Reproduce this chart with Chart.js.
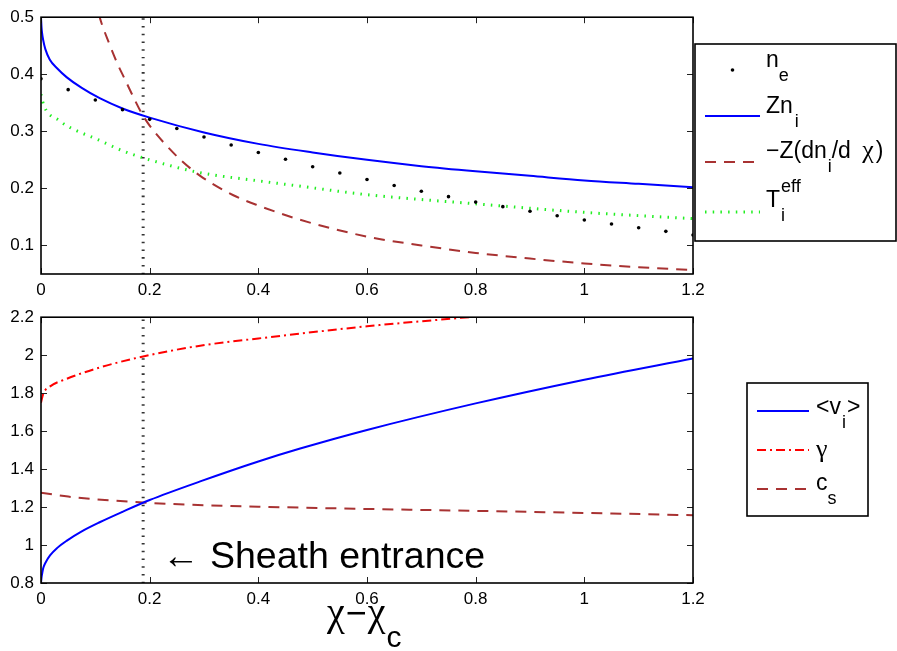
<!DOCTYPE html>
<html>
<head>
<meta charset="utf-8">
<script src="https://cdn.jsdelivr.net/npm/chart.js@4.4.1/dist/chart.umd.min.js"></script>
<style>
  body { margin: 0; background: #fff; }
  #wrap { position: relative; width: 897px; height: 651px; }
  canvas { position: absolute; left: 0; }
  #top { top: 0; }
  #bottom { top: 300px; }
</style>
</head>
<body>
<div id="wrap">
  <canvas id="top" width="897" height="300"></canvas>
  <canvas id="bottom" width="897" height="351"></canvas>
</div>
<script>
"use strict";

// ---- data ----
const xTicks = [0, 0.2, 0.4, 0.6, 0.8, 1, 1.2];
const xTickLabels = ['0', '0.2', '0.4', '0.6', '0.8', '1', '1.2'];
const topYTicks = [0.1, 0.2, 0.3, 0.4, 0.5];
const topYTickLabels = ['0.1', '0.2', '0.3', '0.4', '0.5'];
const botYTicks = [0.8, 1, 1.2, 1.4, 1.6, 1.8, 2, 2.2];
const botYTickLabels = ['0.8', '1', '1.2', '1.4', '1.6', '1.8', '2', '2.2'];

const sheathX = 0.188; // sheath entrance position

// top panel
const neX = [0, 0.05, 0.1, 0.15, 0.2, 0.25, 0.3, 0.35, 0.4, 0.45, 0.5, 0.55, 0.6,
             0.65, 0.7, 0.75, 0.8, 0.85, 0.9, 0.95, 1, 1.05, 1.1, 1.15, 1.2];
const neY = [0.392, 0.373, 0.355, 0.338, 0.321, 0.305, 0.290, 0.276, 0.263, 0.251, 0.238, 0.227, 0.2155,
             0.205, 0.195, 0.1855, 0.176, 0.168, 0.160, 0.152, 0.1445, 0.1377, 0.131, 0.1247, 0.1184];

const zniX = [0, 0.001, 0.002, 0.004, 0.008, 0.016, 0.03, 0.047, 0.075, 0.108, 0.15,
              0.2, 0.3, 0.4, 0.5, 0.6, 0.7, 0.8, 0.9, 1.0, 1.1, 1.2];
const zniY = [0.5, 0.482, 0.472, 0.46, 0.444, 0.426, 0.41, 0.395, 0.376, 0.358, 0.34,
              0.324, 0.298, 0.278, 0.263, 0.25, 0.239, 0.23, 0.222, 0.214, 0.208, 0.202];

const dndX = [0.09, 0.108, 0.125, 0.14, 0.155, 0.17, 0.185, 0.2, 0.23, 0.257, 0.293, 0.354, 0.4,
              0.477, 0.6, 0.7, 0.8, 0.9, 1.0, 1.1, 1.2];
const dndY = [0.57, 0.5, 0.455, 0.42, 0.39, 0.36, 0.332, 0.31, 0.276, 0.25, 0.222, 0.188, 0.17,
              0.145, 0.1155, 0.1, 0.087, 0.077, 0.0685, 0.062, 0.057];

const tiX = [0, 0.003, 0.01, 0.032, 0.047, 0.108, 0.15, 0.2, 0.293, 0.4, 0.47, 0.6, 0.8, 1.0, 1.2];
const tiY = [0.365, 0.352, 0.336, 0.32, 0.31, 0.284, 0.266, 0.25, 0.2275, 0.2133, 0.2047, 0.189, 0.173, 0.158, 0.147];

// bottom panel
const viX = [0, 0.001, 0.0025, 0.0043, 0.008, 0.0166, 0.03, 0.047, 0.075, 0.108, 0.15, 0.2,
             0.293, 0.4, 0.477, 0.6, 0.8, 1.0, 1.2];
const viY = [0.8, 0.83, 0.855, 0.88, 0.905, 0.945, 0.985, 1.022, 1.072, 1.12, 1.175, 1.237,
             1.335, 1.44, 1.508, 1.606, 1.746, 1.871, 1.983];

const gammaX = [0, 0.0043, 0.015, 0.047, 0.108, 0.188, 0.293, 0.4, 0.6, 0.8, 1.0, 1.2];
const gammaY = [1.75, 1.798, 1.832, 1.875, 1.935, 1.993, 2.05, 2.088, 2.152, 2.203, 2.25, 2.29];

const csX = [0, 0.05, 0.1, 0.2, 0.3, 0.4, 0.6, 0.8, 1.0, 1.2];
const csY = [1.276, 1.255, 1.241, 1.222, 1.21, 1.202, 1.19, 1.18, 1.169, 1.157];

// ---- styles ----
const FONT = "'Liberation Sans', Arial, Helvetica, sans-serif";
const GREEK = "'Liberation Serif', 'Times New Roman', serif";
const BLUE = '#0000ff';
const BROWN = '#a83232';
const RED = '#ff0000';
const GREEN = '#22ee22';
const DASHED = [11, 8];
const DOTTED = [1.5, 6.2];
const DASHDOT = [9, 4, 2, 4];

const pts = (xs, ys) => xs.map((x, i) => ({ x, y: ys[i] }));

function lineSet(xs, ys, color, dash, width) {
    return {
        data: pts(xs, ys),
        showLine: true,
        borderColor: color,
        borderWidth: width || 2,
        borderDash: dash || [],
        pointRadius: 0,
        cubicInterpolationMode: 'monotone',
        fill: false
    };
}

// inward ticks on all four sides + axes box
const boxTicks = {
    id: 'boxTicks',
    afterDatasetsDraw(chart) {
        const { ctx, chartArea: a, scales: { x, y } } = chart;
        ctx.save();
        ctx.strokeStyle = '#222';
        ctx.lineWidth = 1;
        ctx.beginPath();
        x.ticks.forEach(t => {
            const px = Math.round(x.getPixelForValue(t.value)) + 0.5;
            ctx.moveTo(px, a.bottom); ctx.lineTo(px, a.bottom - 6);
            ctx.moveTo(px, a.top); ctx.lineTo(px, a.top + 6);
        });
        y.ticks.forEach(t => {
            const py = Math.round(y.getPixelForValue(t.value)) + 0.5;
            ctx.moveTo(a.left, py); ctx.lineTo(a.left + 6, py);
            ctx.moveTo(a.right, py); ctx.lineTo(a.right - 6, py);
        });
        ctx.stroke();
        ctx.strokeStyle = '#000';
        ctx.lineWidth = 1.6;
        ctx.strokeRect(a.left, a.top, a.right - a.left, a.bottom - a.top);
        ctx.restore();
    }
};

// text with sub/superscripts: parts = [{t, sub, sup, stay, gap, f, s}]
function drawRich(ctx, parts, x, base, size, subSize) {
    let cx = x;
    parts.forEach(p => {
        const s = p.s || ((p.sub || p.sup) ? subSize : size);
        ctx.font = s + 'px ' + (p.f || FONT);
        const dy = p.sub ? size * 0.6 : (p.sup ? -size * 0.66 : 0);
        ctx.fillText(p.t, cx, base + dy);
        if (!p.stay) cx += ctx.measureText(p.t).width + (p.gap || 0);
    });
}

// boxed legend with line samples and TeX-like labels
const texLegend = {
    id: 'texLegend',
    afterDraw(chart, args, opts) {
        if (!opts.box) return;
        const ctx = chart.ctx;
        const b = opts.box;
        ctx.save();
        ctx.fillStyle = '#fff';
        ctx.fillRect(b.x, b.y, b.w, b.h);
        ctx.strokeStyle = '#000';
        ctx.lineWidth = 1.6;
        ctx.strokeRect(b.x, b.y, b.w, b.h);
        opts.rows.forEach(r => {
            const ds = chart.data.datasets[r.ds];
            if (r.dot) {
                ctx.fillStyle = ds.backgroundColor;
                ctx.beginPath();
                ctx.arc((opts.x0 + opts.x1) / 2, r.sy, ds.pointRadius, 0, Math.PI * 2);
                ctx.fill();
            } else {
                ctx.strokeStyle = ds.borderColor;
                ctx.lineWidth = ds.borderWidth;
                ctx.setLineDash(ds.borderDash);
                ctx.beginPath();
                ctx.moveTo(opts.x0, r.sy);
                ctx.lineTo(opts.x1, r.sy);
                ctx.stroke();
                ctx.setLineDash([]);
            }
            ctx.fillStyle = '#000';
            ctx.textBaseline = 'alphabetic';
            ctx.textAlign = 'left';
            drawRich(ctx, r.parts, opts.tx, r.base, opts.size, opts.subSize);
        });
        ctx.restore();
    }
};

// free text on the lower panel
const panelText = {
    id: 'panelText',
    afterDraw(chart, args, opts) {
        if (!opts.items) return;
        const ctx = chart.ctx;
        ctx.save();
        ctx.fillStyle = '#000';
        ctx.textAlign = 'left';
        ctx.textBaseline = 'alphabetic';
        opts.items.forEach(it => drawRich(ctx, it.parts, it.x, it.base, it.size, it.subSize));
        ctx.restore();
    }
};

function axes(yMin, yMax, yTicks, yLabels, xHeight) {
    const tickFont = { family: FONT, size: 17 };
    return {
        x: {
            type: 'linear', min: 0, max: 1.2,
            afterBuildTicks: s => { s.ticks = xTicks.map(v => ({ value: v })); },
            afterFit: s => { s.height = xHeight; },
            ticks: { callback: (v, i) => xTickLabels[i], font: tickFont, color: '#000',
                     padding: 6, maxRotation: 0, autoSkip: false },
            grid: { display: false, drawTicks: false },
            border: { display: false }
        },
        y: {
            type: 'linear', min: yMin, max: yMax,
            afterBuildTicks: s => { s.ticks = yTicks.map(v => ({ value: v })); },
            afterFit: s => { s.width = 41; },
            ticks: { callback: (v, i) => yLabels[i], font: tickFont, color: '#000',
                     padding: 7, autoSkip: false },
            grid: { display: false, drawTicks: false },
            border: { display: false }
        }
    };
}

const common = {
    responsive: false,
    animation: false,
    events: [],
    plugins: { legend: { display: false }, tooltip: { enabled: false } }
};

// ---- upper panel: densities ----
new Chart(document.getElementById('top'), {
    type: 'scatter',
    data: {
        datasets: [
            { data: pts(neX, neY), pointRadius: 1.8, backgroundColor: '#000', borderWidth: 0, showLine: false },
            lineSet(zniX, zniY, BLUE),
            lineSet(dndX, dndY, BROWN, DASHED),
            lineSet(tiX, tiY, GREEN, DOTTED, 3),
            lineSet([sheathX, sheathX], [0.05, 0.5], '#333', DOTTED, 3)
        ]
    },
    options: {
        ...common,
        layout: { padding: { left: 0, top: 10, right: 204, bottom: 0 } },
        scales: axes(0.05, 0.5, topYTicks, topYTickLabels, 26),
        plugins: {
            ...common.plugins,
            texLegend: {
                box: { x: 695, y: 44, w: 201, h: 197 },
                x0: 705, x1: 760, tx: 766, size: 23, subSize: 18,
                rows: [
                    { ds: 0, dot: true, sy: 70, base: 67, parts: [{ t: 'n' }, { t: 'e', sub: 1 }] },
                    { ds: 1, sy: 116, base: 113, parts: [{ t: 'Zn', gap: 2 }, { t: 'i', sub: 1 }] },
                    { ds: 2, sy: 162, base: 158, parts: [{ t: '\u2212Z(dn', gap: 1 }, { t: 'i', sub: 1 }, { t: '/d ', gap: 5 }, { t: '\u03c7', f: GREEK, s: 26, gap: 2 }, { t: ')' }] },
                    { ds: 3, sy: 212, base: 207, parts: [{ t: 'T', gap: 1 }, { t: 'i', sub: 1, stay: 1 }, { t: 'eff', sup: 1 }] }
                ]
            }
        }
    },
    plugins: [boxTicks, texLegend]
});

// ---- lower panel: velocities ----
new Chart(document.getElementById('bottom'), {
    type: 'scatter',
    data: {
        datasets: [
            lineSet(viX, viY, BLUE),
            lineSet(gammaX, gammaY, RED, DASHDOT),
            lineSet(csX, csY, BROWN, DASHED),
            lineSet([sheathX, sheathX], [0.8, 2.2], '#333', DOTTED, 3)
        ]
    },
    options: {
        ...common,
        layout: { padding: { left: 0, top: 14, right: 204, bottom: 0 } },
        scales: axes(0.8, 2.2, botYTicks, botYTickLabels, 68),
        plugins: {
            ...common.plugins,
            texLegend: {
                box: { x: 747, y: 83, w: 121, h: 133 },
                x0: 757, x1: 809, tx: 816, size: 23, subSize: 18,
                rows: [
                    { ds: 0, sy: 111, base: 114, parts: [{ t: '<v', gap: 1 }, { t: 'i', sub: 1, gap: 1 }, { t: '>' }] },
                    { ds: 1, sy: 150, base: 157, parts: [{ t: '\u03b3', f: GREEK, s: 26 }] },
                    { ds: 2, sy: 189, base: 190, parts: [{ t: 'c' }, { t: 's', sub: 1 }] }
                ]
            },
            panelText: {
                items: [
                    { x: 162, base: 268, size: 37.5, subSize: 37.5, parts: [{ t: '\u2190 Sheath entrance' }] },
                    { x: 327, base: 325, size: 36, subSize: 30, parts: [
                        { t: '\u03c7', f: GREEK, s: 40, gap: 1 }, { t: '\u2212', gap: 1 },
                        { t: '\u03c7', f: GREEK, s: 40, gap: 1 }, { t: 'c', sub: 1 }] }
                ]
            }
        }
    },
    plugins: [boxTicks, texLegend, panelText]
});
</script>
</body>
</html>
